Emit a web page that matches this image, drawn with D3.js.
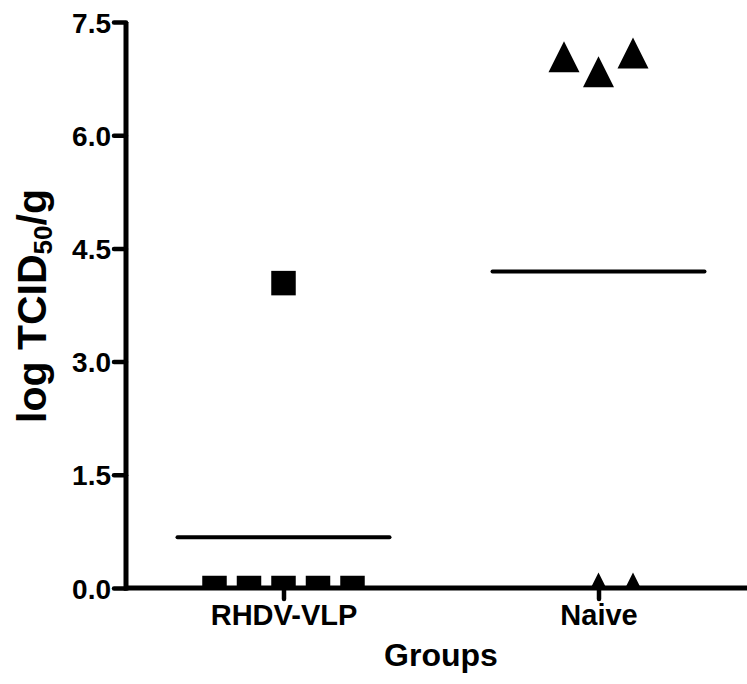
<!DOCTYPE html>
<html><head><meta charset="utf-8">
<script src="https://cdn.jsdelivr.net/npm/d3@7/dist/d3.min.js"></script>
<style>body{margin:0;background:#fff}svg{display:block}text{font-family:"Liberation Sans",Arial,sans-serif;font-weight:bold;fill:#000}</style>
</head><body><svg id="c" width="747" height="684"></svg>
<script>
const groups = ["RHDV-VLP", "Naive"];
const rhdvValues = [0, 0, 0, 0, 0, 4.04];
const naiveValues = [7.04, 6.84, 7.09, 0, 0];
const yTicks = [0, 1.5, 3.0, 4.5, 6.0, 7.5];
const series = [
  {group: "RHDV-VLP", values: rhdvValues, shape: "square"},
  {group: "Naive", values: naiveValues, shape: "triangle"}
];

const svg = d3.select("#c");
const y = d3.scaleLinear().domain([0, 7.5]).range([588, 22]);
const x = d3.scalePoint().domain(groups).range([283.5, 598.5]);
const slot = 34.5;

svg.append("defs").append("clipPath").attr("id","clip")
  .append("rect").attr("x",126).attr("y",0).attr("width",621).attr("height",588);

const squareSym = {draw(ctx, size){ const h = size/2; ctx.moveTo(-h,-h); ctx.lineTo(h,-h); ctx.lineTo(h,h); ctx.lineTo(-h,h); ctx.closePath(); }};
const triSym = {draw(ctx, size){ const w = size/2, h = size/2; ctx.moveTo(0,-h); ctx.lineTo(w,h); ctx.lineTo(-w,h); ctx.closePath(); }};

const pts = svg.append("g").attr("clip-path","url(#clip)");
series.forEach(s => {
  const idx = s.values.map((v,i)=>i);
  const clusters = [];
  idx.slice().sort((a,b)=>s.values[a]-s.values[b]).forEach(i => {
    const last = clusters[clusters.length-1];
    if (last && Math.abs(s.values[i]-s.values[last[last.length-1]]) < 0.4) last.push(i); else clusters.push([i]);
  });
  const offs = new Array(s.values.length).fill(0);
  clusters.forEach(c => {
    c.sort((a,b)=>a-b);
    const n = c.length, start = -Math.floor((n-1)/2);
    c.forEach((i,k)=>{ offs[i] = (start+k)*slot; });
  });
  const sym = s.shape === "square" ? d3.symbol().type(squareSym).size(24.5) : d3.symbol().type(triSym).size(31);
  pts.selectAll(null).data(s.values).enter().append("path")
    .attr("d", sym)
    .attr("transform",(d,i)=>`translate(${x(s.group)+offs[i]},${y(d)})`)
    .attr("fill","#000");
  const m = d3.mean(s.values);
  svg.append("line").attr("x1",x(s.group)-106).attr("x2",x(s.group)+106)
    .attr("y1",y(m)).attr("y2",y(m)).attr("stroke","#000").attr("stroke-width",4).attr("stroke-linecap","round");
});

const ya = svg.append("g").attr("transform","translate(126,0)")
  .call(d3.axisLeft(y).tickValues(yTicks).tickFormat(d3.format(".1f")).tickSize(12).tickPadding(3));
ya.select(".domain").attr("d",`M0,${y(7.5)}V${y(0)+2.5}`).attr("stroke-width",5).attr("stroke","#000");
ya.selectAll(".tick line").attr("stroke-width",4.5).attr("stroke","#000").attr("stroke-linecap","round");
ya.selectAll(".tick text").style("font-size","28px").attr("dy","0.36em");

const xa = svg.append("g").attr("transform",`translate(0,${y(0)})`)
  .call(d3.axisBottom(x).tickSize(11).tickPadding(5));
xa.select(".domain").attr("d","M124,0H747").attr("stroke-width",5).attr("stroke","#000");
xa.selectAll(".tick line").attr("stroke-width",4.5).attr("stroke","#000").attr("stroke-linecap","round");
xa.selectAll(".tick text").style("font-size","29px").attr("dy","0.71em");
ya.attr("font-family",null); xa.attr("font-family",null);

svg.append("text").attr("x",441).attr("y",666).attr("text-anchor","middle").style("font-size","32px").text("Groups");
const yl = svg.append("text").attr("transform","translate(46,306) rotate(-90)").attr("text-anchor","middle").style("font-size","41px");
yl.append("tspan").text("log TCID");
yl.append("tspan").attr("dy",6).style("font-size","26px").text("50");
yl.append("tspan").attr("dy",-6).text("/g");
</script></body></html>
